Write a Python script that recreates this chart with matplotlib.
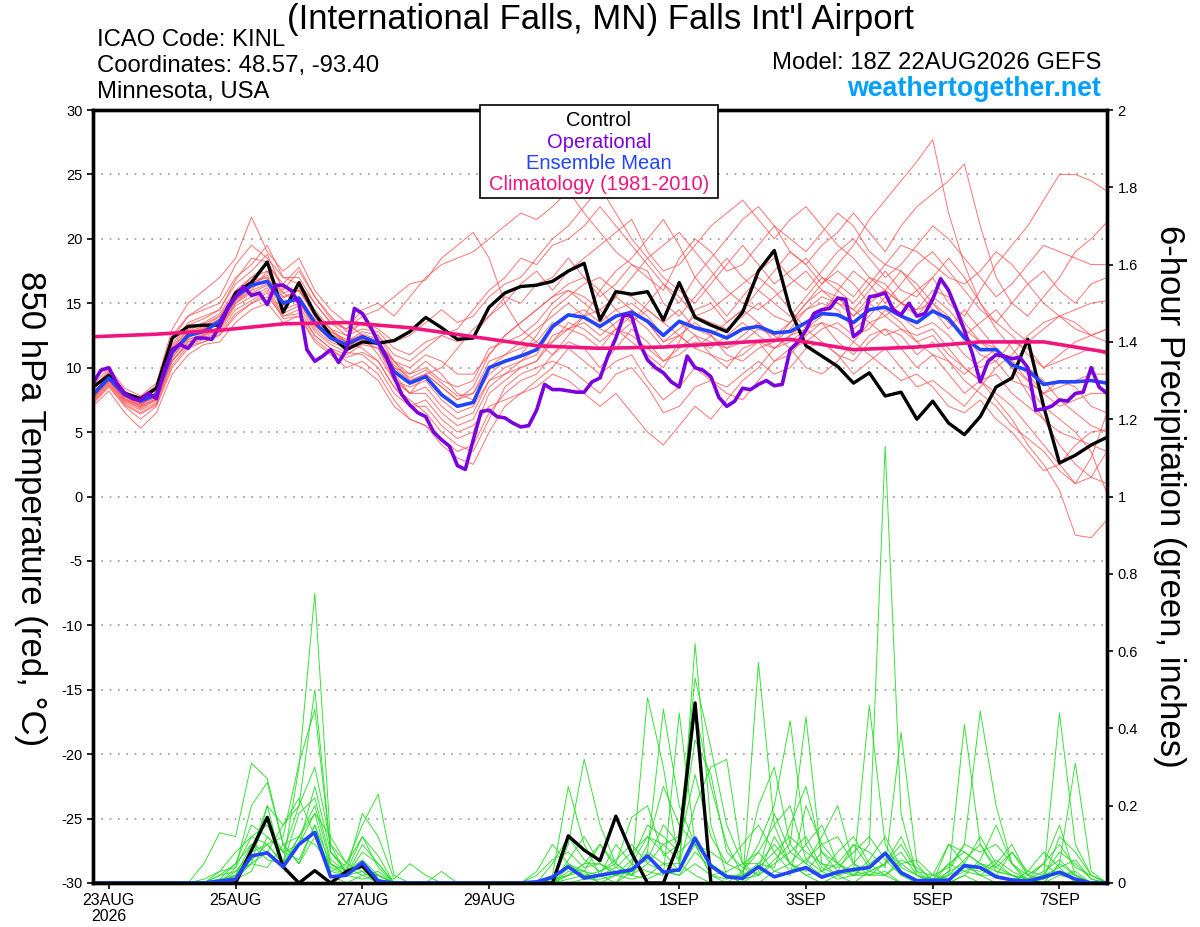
import numpy as np
import pandas as pd
import matplotlib
matplotlib.use("Agg")
import matplotlib.pyplot as plt
from matplotlib.patches import Rectangle
from matplotlib.ticker import FuncFormatter

plt.rcParams["font.family"] = ["Liberation Sans", "DejaVu Sans"]
plt.rcParams["axes.unicode_minus"] = False

# ---------------------------------------------------------------- data
RUN_START = "2026-08-22 18:00"

# 6-hourly control (black) 850 hPa temperature, degC
control_temp = [
    8.5, 9.4, 8.0, 7.6, 8.4, 12.3, 13.2, 13.3,
    13.3, 15.8, 16.6, 18.2, 14.3, 16.6, 14.2, 12.5,
    11.4, 12.0, 11.9, 12.1, 12.8, 13.9, 13.1, 12.2,
    12.3, 14.7, 15.8, 16.3, 16.4, 16.7, 17.5, 18.1,
    13.7, 15.9, 15.7, 15.9, 13.7, 16.6, 13.9, 13.3,
    12.8, 14.3, 17.5, 19.1, 14.5, 11.7, 10.9, 10.1,
    8.8, 9.6, 7.8, 8.1, 6.0, 7.4, 5.7, 4.8,
    6.2, 8.5, 9.2, 12.2, 7.0, 2.6, 3.2, 4.0,
    4.6,
]

# 6-hourly ensemble mean (blue)
mean_temp = [
    7.9, 9.2, 7.9, 7.4, 7.9, 11.2, 12.5, 12.8,
    13.6, 15.5, 16.4, 16.7, 15.0, 15.4, 13.5, 12.3,
    11.8, 12.4, 11.9, 9.7, 8.8, 9.3, 7.9, 7.0,
    7.3, 10.0, 10.5, 10.9, 11.4, 13.2, 14.1, 13.9,
    13.2, 14.0, 14.3, 13.6, 12.5, 13.6, 13.1, 12.8,
    12.3, 13.0, 13.2, 12.7, 12.8, 13.5, 14.2, 14.1,
    13.5, 14.5, 14.7, 14.0, 13.5, 14.4, 13.8, 12.3,
    11.4, 11.4, 10.2, 9.8, 8.7, 8.9, 8.9, 9.0,
    8.8,
]

# 3-hourly operational run (purple)
oper_temp = [
    8.8, 9.8, 10.0, 8.8, 8.0, 7.6, 7.5, 8.0, 7.6, 9.8, 11.4, 11.8, 11.5, 12.3, 12.3, 12.2,
    13.2, 14.7, 15.5, 16.3, 15.6, 15.8, 14.9, 16.4, 16.4, 16.0, 15.0, 11.4, 10.5, 10.9, 11.4, 10.4,
    11.4, 14.6, 14.2, 13.2, 12.0, 10.9, 9.3, 7.9, 7.1, 6.5, 6.2, 5.0, 4.4, 3.9, 2.4, 2.1,
    4.4, 6.6, 6.7, 6.2, 6.1, 5.7, 5.4, 5.5, 6.7, 8.7, 8.3, 8.3, 8.2, 8.1, 8.1, 8.9,
    9.2, 10.9, 12.3, 14.1, 14.0, 11.9, 10.6, 10.0, 9.6, 8.9, 8.5, 10.9, 10.0, 9.8, 9.3, 7.7,
    7.0, 7.4, 8.4, 8.3, 8.7, 9.0, 8.6, 8.7, 11.4, 12.0, 12.9, 14.2, 14.5, 14.6, 15.4, 15.3,
    12.4, 12.9, 15.5, 15.6, 15.8, 14.5, 14.1, 15.0, 14.0, 14.2, 15.3, 16.9, 16.0, 14.5, 12.9, 11.1,
    8.9, 10.5, 11.0, 10.9, 10.7, 10.8, 10.0, 6.7, 6.8, 7.0, 7.5, 7.4, 8.0, 8.1, 10.0, 8.5,
    8.0,
]

# daily climatology (1981-2010), magenta
clim_temp = [12.4, 12.6, 12.9, 13.4, 13.5, 13.1, 12.4, 11.7, 11.5,
             11.6, 11.9, 12.2, 11.4, 11.6, 12.0, 12.0, 11.2]

# 6-hourly perturbed members (red)
member_temp = [
    [8.0, 9.5, 7.8, 7.0, 8.2, 12.5, 14.0, 14.8, 15.5, 18.0, 19.5, 18.5, 17.0, 16.5, 15.0, 13.5,
     13.0, 14.5, 15.0, 14.0, 15.5, 17.0, 18.0, 18.5, 19.0, 20.0, 21.0, 22.0, 21.5, 22.5, 23.7, 22.0,
     20.5, 19.0, 18.0, 17.0, 16.0, 18.5, 20.0, 19.0, 17.5, 18.0, 19.5, 21.0, 20.0, 19.0, 20.5, 22.0,
     21.0, 19.0, 18.0, 17.5, 16.0, 17.0, 15.0, 14.0, 16.0, 18.0, 19.5, 21.0, 23.0, 25.0, 25.0, 24.5, 23.7],
    [7.6, 9.0, 7.5, 6.8, 7.5, 10.5, 12.0, 12.5, 13.0, 15.0, 16.0, 17.5, 15.5, 16.0, 14.5, 13.0,
     12.0, 12.5, 11.0, 9.0, 8.0, 9.5, 10.0, 11.5, 13.0, 14.0, 15.5, 15.0, 16.5, 17.0, 18.5, 17.0,
     15.5, 16.5, 18.0, 17.5, 15.0, 14.0, 15.5, 17.0, 18.5, 17.0, 16.0, 17.5, 19.0, 18.0, 16.5, 18.0,
     19.5, 21.5, 23.0, 24.5, 26.0, 27.7, 22.0, 18.0, 15.0, 13.0, 11.5, 10.0, 9.0, 7.5, 6.5, 5.5, 5.0],
    [8.3, 9.8, 8.2, 7.5, 8.0, 11.8, 13.5, 14.0, 14.5, 16.5, 17.5, 18.8, 16.0, 17.5, 15.5, 14.0,
     12.8, 13.5, 12.5, 11.0, 10.5, 11.5, 12.5, 13.0, 14.5, 16.0, 17.0, 18.5, 18.0, 19.5, 20.0, 21.0,
     22.5, 21.0, 19.5, 18.0, 16.5, 15.0, 17.0, 18.5, 20.0, 21.5, 22.5, 21.0, 19.0, 18.0, 19.5, 20.5,
     22.0, 20.5, 19.0, 21.0, 22.5, 23.5, 24.5, 25.8, 21.0, 17.0, 15.0, 14.0, 15.5, 17.0, 19.0, 20.0, 21.3],
    [7.2, 8.5, 7.0, 6.0, 7.0, 10.0, 11.5, 12.0, 12.5, 14.0, 15.0, 15.5, 14.0, 14.5, 12.5, 11.5,
     10.5, 10.0, 9.0, 7.0, 6.0, 5.5, 4.5, 3.5, 4.0, 6.5, 8.0, 9.0, 9.5, 11.0, 12.0, 11.5,
     10.0, 11.5, 13.0, 12.0, 10.5, 11.5, 12.5, 11.0, 10.0, 11.5, 12.0, 10.5, 11.0, 12.5, 13.5, 12.0,
     11.0, 12.5, 13.0, 11.5, 10.0, 11.0, 9.5, 8.0, 9.0, 7.5, 6.0, 4.0, 2.5, 0.5, -3.0, -3.2, -1.8],
    [7.5, 8.8, 7.2, 6.5, 7.2, 10.8, 12.3, 13.0, 13.8, 15.8, 16.8, 17.0, 15.0, 15.2, 13.0, 12.0,
     11.5, 12.0, 11.5, 9.5, 8.0, 8.5, 7.0, 6.0, 6.5, 9.0, 10.0, 10.5, 11.0, 13.0, 14.0, 14.5,
     13.5, 14.5, 15.0, 14.0, 12.5, 13.5, 12.5, 12.0, 11.5, 12.5, 13.5, 12.0, 13.0, 14.5, 15.0, 14.5,
     13.0, 14.0, 15.5, 14.0, 13.0, 13.5, 12.5, 11.0, 10.0, 10.5, 9.0, 8.5, 7.0, 6.0, 5.0, 3.5, 0.2],
    [7.0, 8.2, 6.5, 5.3, 6.5, 9.5, 11.0, 11.8, 12.0, 13.5, 14.5, 15.0, 13.5, 14.0, 12.0, 11.0,
     10.0, 10.5, 9.5, 7.5, 6.0, 5.5, 4.0, 3.0, 2.5, 5.0, 7.0, 8.0, 9.0, 10.0, 11.5, 10.5,
     9.5, 10.5, 11.0, 9.0, 7.5, 8.5, 10.0, 9.0, 8.5, 9.5, 10.5, 9.5, 10.0, 11.5, 12.0, 11.0,
     10.5, 12.0, 13.0, 12.5, 11.0, 12.0, 10.5, 9.0, 8.0, 7.0, 5.5, 4.5, 3.5, 2.0, 1.0, 1.5, 3.5],
    [8.6, 10.0, 8.4, 7.8, 8.8, 13.0, 15.0, 16.0, 17.0, 18.5, 21.7, 19.0, 17.5, 18.5, 16.0, 14.5,
     13.5, 12.5, 12.0, 10.5, 9.5, 10.0, 9.0, 8.5, 9.0, 11.5, 12.0, 12.5, 13.5, 15.0, 16.0, 15.5,
     14.5, 13.0, 12.0, 11.0, 10.0, 12.0, 14.5, 15.0, 13.5, 14.5, 16.0, 15.0, 14.0, 15.5, 17.0, 16.5,
     15.5, 17.0, 16.5, 15.0, 14.0, 15.5, 14.5, 13.0, 12.0, 11.0, 10.5, 9.0, 8.0, 9.0, 8.5, 7.0, 6.5],
    [7.8, 9.0, 7.6, 7.0, 7.6, 11.0, 12.8, 13.2, 14.0, 15.5, 16.5, 17.2, 15.8, 15.0, 13.8, 12.8,
     12.0, 11.5, 10.5, 8.5, 7.0, 7.5, 6.0, 5.0, 5.5, 7.0, 7.5, 8.0, 8.5, 9.5, 9.0, 8.0,
     7.0, 8.0, 6.5, 5.0, 4.0, 5.5, 7.0, 6.0, 7.5, 9.0, 10.0, 11.5, 12.5, 13.0, 12.0, 11.0,
     9.5, 10.5, 11.5, 10.0, 8.5, 9.0, 8.0, 7.0, 8.5, 10.0, 11.0, 12.5, 13.5, 14.0, 13.0, 12.5, 13.0],
    [8.1, 9.3, 7.8, 7.3, 8.1, 11.5, 13.0, 13.5, 14.2, 16.0, 17.0, 18.0, 16.5, 17.8, 15.5, 13.8,
     13.0, 14.0, 14.5, 15.5, 16.5, 16.8, 18.5, 19.5, 20.5, 18.5, 15.0, 13.0, 12.0, 11.0, 12.5, 14.0,
     16.0, 17.5, 18.5, 20.0, 21.5, 19.5, 17.0, 15.5, 14.0, 15.5, 17.0, 16.0, 14.5, 13.0, 14.0, 16.0,
     17.5, 16.5, 15.0, 16.5, 18.0, 19.0, 17.5, 16.0, 14.5, 13.5, 15.0, 16.5, 17.5, 16.0, 15.0, 16.5, 17.0],
    [7.7, 9.1, 7.7, 7.2, 7.7, 11.2, 12.2, 12.5, 13.2, 15.2, 16.0, 16.5, 14.5, 15.0, 13.2, 12.2,
     11.5, 12.5, 12.0, 10.0, 9.5, 10.5, 9.5, 8.0, 7.5, 9.5, 10.5, 11.0, 12.5, 14.5, 15.5, 16.5,
     17.0, 16.0, 15.5, 14.5, 13.5, 14.5, 13.0, 12.5, 11.0, 10.5, 11.5, 12.0, 13.5, 15.0, 16.0, 15.5,
     14.0, 15.0, 16.0, 15.0, 14.5, 16.0, 15.5, 13.5, 12.0, 11.5, 10.0, 9.0, 8.0, 8.5, 9.0, 9.5, 9.5],
    [7.4, 8.7, 7.3, 6.7, 7.3, 10.5, 12.0, 12.3, 13.0, 14.8, 15.5, 16.2, 14.2, 14.8, 12.8, 11.8,
     11.2, 11.0, 10.0, 8.0, 7.0, 7.0, 5.5, 4.5, 5.0, 8.0, 9.0, 10.0, 10.5, 12.5, 13.0, 12.5,
     11.5, 13.0, 14.0, 13.0, 11.5, 12.5, 11.5, 11.0, 10.5, 11.0, 12.0, 11.5, 12.0, 13.0, 13.5, 13.0,
     12.0, 13.5, 14.0, 13.0, 12.5, 13.0, 11.5, 10.0, 9.0, 8.0, 7.0, 5.5, 4.0, 2.5, 1.0, 3.0, 6.5],
    [8.4, 9.7, 8.1, 7.7, 8.6, 12.2, 14.0, 14.5, 15.0, 17.0, 18.0, 19.5, 17.0, 17.0, 15.0, 13.5,
     12.5, 13.5, 13.0, 12.0, 12.5, 13.5, 14.5, 13.5, 14.0, 15.5, 16.5, 17.0, 18.5, 20.0, 21.0, 22.5,
     24.0, 22.0, 20.0, 18.5, 17.0, 16.0, 15.0, 16.5, 18.0, 19.5, 18.0, 16.5, 17.5, 18.5, 17.0, 16.0,
     15.0, 16.5, 18.0, 19.5, 19.0, 18.0, 17.0, 16.5, 17.5, 19.0, 18.0, 16.5, 15.0, 14.0, 14.5, 15.0, 15.2],
    [7.9, 9.2, 7.9, 7.4, 7.9, 11.0, 12.6, 13.0, 13.6, 15.3, 16.2, 16.8, 15.2, 15.2, 13.5, 12.5,
     12.0, 12.8, 12.5, 10.5, 9.0, 9.5, 8.5, 7.5, 8.0, 10.5, 11.0, 11.5, 12.0, 13.5, 13.0, 14.0,
     14.5, 15.5, 14.5, 13.5, 12.0, 13.0, 14.0, 13.5, 13.0, 14.0, 15.0, 14.0, 13.5, 14.5, 15.5, 15.0,
     14.0, 15.5, 16.0, 15.0, 14.5, 15.0, 14.0, 12.5, 11.0, 10.5, 12.0, 11.5, 10.0, 10.5, 11.0, 11.5, 11.0],
    [7.6, 8.9, 7.4, 6.9, 7.5, 10.6, 11.8, 12.2, 12.8, 14.5, 15.2, 16.0, 14.0, 14.2, 12.5, 11.5,
     11.0, 11.8, 11.5, 9.0, 8.5, 9.0, 7.5, 6.5, 7.0, 9.0, 9.5, 10.5, 11.5, 12.0, 13.5, 13.0,
     12.0, 13.0, 12.5, 11.5, 10.5, 11.0, 12.0, 11.5, 12.5, 13.5, 12.5, 11.5, 12.5, 13.5, 14.5, 15.5,
     14.5, 13.5, 12.5, 13.0, 12.0, 11.0, 10.5, 9.5, 10.5, 11.5, 10.5, 9.5, 8.0, 7.0, 7.5, 8.0, 8.0],
    [8.2, 9.6, 8.0, 7.4, 8.3, 11.6, 13.3, 13.8, 14.5, 16.8, 18.5, 18.2, 16.2, 16.0, 14.2, 13.0,
     12.5, 13.0, 12.8, 11.5, 11.0, 12.0, 12.5, 12.0, 12.5, 14.0, 15.0, 16.5, 17.5, 16.0, 17.5, 18.5,
     19.5, 20.5, 21.5, 19.0, 17.5, 18.0, 19.5, 21.0, 22.0, 23.0, 21.5, 20.0, 21.5, 22.5, 21.0, 19.5,
     18.5, 17.0, 16.0, 17.5, 16.5, 15.0, 13.5, 12.5, 13.5, 14.5, 13.0, 12.0, 13.0, 14.0, 13.5, 12.5, 13.0],
    [7.3, 8.6, 7.1, 6.4, 7.1, 10.2, 11.7, 12.0, 12.6, 14.2, 15.0, 15.8, 13.8, 14.0, 12.2, 11.2,
     10.8, 11.2, 10.5, 8.5, 7.5, 6.5, 5.0, 4.0, 3.5, 6.0, 8.5, 9.5, 10.0, 10.5, 10.0, 9.0,
     8.0, 9.5, 10.0, 8.5, 6.5, 7.0, 8.5, 9.0, 8.0, 7.5, 9.0, 10.5, 11.5, 10.0, 9.5, 10.5,
     12.0, 11.0, 10.0, 9.0, 9.5, 8.5, 7.0, 6.5, 7.5, 6.0, 5.0, 3.5, 2.0, 2.5, 4.0, 5.0, 5.2],
    [8.0, 9.4, 7.9, 7.3, 8.0, 11.4, 12.9, 13.4, 14.0, 15.8, 17.0, 17.5, 15.8, 16.2, 14.0, 12.8,
     12.2, 12.2, 11.8, 10.5, 10.0, 11.0, 10.5, 9.5, 9.5, 11.0, 12.5, 13.5, 14.5, 15.5, 16.5, 17.0,
     16.0, 14.5, 13.5, 15.0, 16.5, 15.5, 14.0, 14.5, 15.5, 16.5, 17.5, 18.5, 17.0, 16.0, 17.5, 19.0,
     20.0, 18.5, 17.0, 18.0, 19.5, 21.0, 20.0, 18.5, 17.0, 15.5, 16.5, 18.0, 19.5, 19.0, 18.5, 18.0, 18.0],
    [7.7, 9.0, 7.5, 7.0, 7.6, 10.8, 12.2, 12.6, 13.2, 15.0, 15.8, 16.4, 14.8, 15.5, 13.5, 12.3,
     11.6, 12.2, 11.8, 9.2, 8.0, 8.0, 6.5, 5.5, 6.0, 8.5, 9.5, 10.0, 10.5, 12.0, 13.0, 13.5,
     12.5, 13.5, 14.5, 13.5, 12.0, 12.5, 13.5, 12.5, 11.5, 12.0, 13.0, 12.5, 11.5, 12.0, 13.0, 13.5,
     12.5, 13.0, 14.5, 13.5, 12.0, 12.5, 11.0, 10.0, 9.0, 9.5, 8.0, 7.0, 6.0, 5.0, 4.5, 4.0, 3.5],
    [8.0, 9.3, 7.8, 7.2, 8.0, 11.3, 12.7, 13.1, 13.8, 15.6, 16.6, 17.0, 15.4, 16.0, 14.0, 12.6,
     12.0, 12.6, 12.2, 10.0, 9.0, 9.5, 8.5, 7.5, 8.5, 11.0, 12.5, 13.5, 14.5, 15.5, 16.0, 15.0,
     14.0, 15.5, 17.0, 18.5, 19.5, 20.5, 19.0, 17.5, 16.0, 15.0, 14.5, 15.5, 16.5, 17.5, 16.0, 15.0,
     14.5, 16.0, 17.5, 16.0, 15.5, 17.0, 18.5, 17.0, 15.0, 13.5, 12.5, 11.0, 10.0, 11.0, 12.0, 12.5, 12.0],
    [7.8, 9.1, 7.6, 7.1, 7.8, 11.0, 12.4, 12.9, 13.5, 15.2, 16.3, 16.8, 15.0, 15.2, 13.3, 12.2,
     11.8, 12.5, 12.0, 10.2, 9.2, 9.8, 8.8, 7.8, 8.0, 10.0, 11.0, 12.0, 13.0, 14.0, 15.0, 14.0,
     13.0, 12.5, 13.5, 14.5, 13.5, 12.5, 11.5, 12.5, 13.5, 14.5, 13.5, 12.5, 13.5, 15.0, 16.5, 17.5,
     16.5, 15.0, 14.0, 15.0, 16.0, 14.5, 13.0, 14.5, 13.0, 11.5, 10.0, 8.0, 6.0, 4.0, 2.5, 1.5, 1.0],
]

# 6-hour precipitation, inches
control_precip = [
    0, 0, 0, 0, 0, 0, 0, 0,
    0, 0, 0.085, 0.17, 0.042, 0, 0.032, 0,
    0.03, 0.044, 0, 0, 0, 0, 0, 0,
    0, 0, 0, 0, 0, 0, 0.122, 0.085,
    0.058, 0.173, 0.077, 0, 0, 0.107, 0.466, 0,
    0, 0, 0, 0, 0, 0, 0, 0,
    0, 0, 0, 0, 0, 0, 0, 0,
    0, 0, 0, 0, 0, 0, 0, 0,
    0,
]

mean_precip = [
    0, 0, 0, 0, 0, 0, 0, 0,
    0.005, 0.01, 0.07, 0.078, 0.042, 0.1, 0.131, 0.016,
    0.02, 0.053, 0.005, 0, 0, 0, 0, 0,
    0, 0, 0, 0, 0.003, 0.015, 0.042, 0.013,
    0.02, 0.027, 0.034, 0.07, 0.028, 0.034, 0.116, 0.044,
    0.016, 0.012, 0.042, 0.016, 0.028, 0.04, 0.015, 0.028,
    0.035, 0.04, 0.077, 0.027, 0.006, 0.007, 0.007, 0.045,
    0.04, 0.016, 0.008, 0.005, 0.015, 0.028, 0.01, 0,
    0,
]

member_precip = [
    [0, 0, 0, 0, 0, 0, 0, 0.01, 0.03, 0.08, 0.12, 0.1, 0.05, 0.3, 0.75, 0.1,
     0.02, 0.03, 0, 0, 0, 0, 0, 0, 0, 0, 0, 0, 0, 0.01, 0.05, 0.03,
     0, 0, 0.05, 0.12, 0.08, 0.03, 0.62, 0.15, 0.02, 0, 0, 0.03, 0.05, 0.02, 0, 0.02,
     0.05, 0.1, 1.13, 0.18, 0.02, 0, 0, 0.02, 0, 0, 0, 0.03, 0.08, 0.04, 0, 0, 0],
    [0, 0, 0, 0, 0, 0, 0, 0, 0.02, 0.05, 0.15, 0.12, 0.08, 0.2, 0.5, 0.08,
     0.03, 0.12, 0.04, 0, 0, 0, 0, 0, 0, 0, 0, 0, 0, 0, 0.1, 0.32,
     0.15, 0.05, 0.02, 0.08, 0.45, 0.2, 0.1, 0.02, 0, 0, 0.57, 0.15, 0.05, 0.02, 0.03, 0.08,
     0.12, 0.05, 0.02, 0, 0, 0, 0.1, 0.05, 0.02, 0, 0, 0, 0.02, 0.44, 0.1, 0.02, 0],
    [0, 0, 0, 0, 0, 0, 0, 0.05, 0.13, 0.12, 0.31, 0.27, 0.1, 0.05, 0.15, 0.02,
     0, 0.02, 0, 0, 0, 0, 0, 0, 0, 0, 0, 0, 0, 0.02, 0.25, 0.1,
     0.02, 0, 0.03, 0.48, 0.3, 0.05, 0.02, 0, 0, 0.03, 0.1, 0.2, 0.42, 0.1, 0.03, 0.05,
     0.1, 0.08, 0.04, 0.39, 0.05, 0, 0, 0.05, 0.12, 0.05, 0.02, 0, 0, 0.05, 0.31, 0.03, 0],
    [0, 0, 0, 0, 0, 0, 0, 0, 0.03, 0.04, 0.2, 0.26, 0.1, 0.12, 0.2, 0.05,
     0.02, 0.05, 0.01, 0, 0, 0, 0, 0, 0, 0, 0, 0, 0, 0.05, 0.12, 0.06,
     0.03, 0.05, 0.17, 0.2, 0.07, 0.1, 0.37, 0.28, 0.08, 0.04, 0.02, 0.06, 0.1, 0.43, 0.05, 0.02,
     0, 0.03, 0.05, 0.12, 0.03, 0, 0.02, 0.41, 0.1, 0.04, 0.02, 0, 0, 0.02, 0.03, 0, 0],
    [0, 0, 0, 0, 0, 0, 0, 0, 0, 0.03, 0.08, 0.1, 0.12, 0.31, 0.45, 0.08,
     0.04, 0.02, 0.03, 0, 0, 0, 0, 0, 0, 0, 0, 0, 0, 0, 0.04, 0.03,
     0.02, 0.1, 0.05, 0.03, 0.02, 0.44, 0.1, 0.05, 0.02, 0, 0.03, 0.18, 0.08, 0.05, 0.12, 0.2,
     0.05, 0.02, 0.03, 0, 0, 0, 0.03, 0.1, 0.445, 0.2, 0.05, 0, 0.02, 0.03, 0.01, 0, 0],
    [0, 0, 0, 0, 0, 0, 0, 0, 0.01, 0.02, 0.05, 0.08, 0.15, 0.2, 0.3, 0.1,
     0.05, 0.15, 0.23, 0.02, 0, 0, 0, 0, 0, 0, 0, 0, 0, 0, 0.02, 0.05,
     0.1, 0.04, 0.02, 0.05, 0.1, 0.12, 0.53, 0.35, 0.15, 0.05, 0.02, 0.12, 0.05, 0.03, 0.08, 0.05,
     0.03, 0.46, 0.1, 0.03, 0, 0, 0, 0.02, 0.06, 0.15, 0.05, 0.01, 0, 0.05, 0.02, 0, 0],
    [0, 0, 0, 0, 0, 0, 0, 0, 0, 0.02, 0.1, 0.06, 0.05, 0.18, 0.22, 0.06,
     0.03, 0.18, 0.12, 0.01, 0.05, 0.02, 0, 0, 0, 0, 0, 0, 0.02, 0.06, 0.08, 0.04,
     0.05, 0.02, 0.01, 0.02, 0.05, 0.05, 0.2, 0.3, 0.32, 0.05, 0.05, 0.1, 0.05, 0.1, 0.15, 0.05,
     0.02, 0.05, 0.08, 0.05, 0.02, 0, 0.03, 0.05, 0.02, 0.05, 0.1, 0.02, 0.05, 0.1, 0.04, 0.02, 0],
    [0, 0, 0, 0, 0, 0, 0, 0, 0, 0.04, 0.12, 0.15, 0.08, 0.1, 0.18, 0.12,
     0.05, 0.03, 0.02, 0, 0, 0, 0.03, 0, 0, 0, 0, 0, 0.03, 0.1, 0.05, 0.02,
     0, 0.02, 0.06, 0.15, 0.12, 0.08, 0.12, 0.05, 0.02, 0.02, 0.2, 0.3, 0.1, 0.05, 0.02, 0.03,
     0.1, 0.04, 0.08, 0.02, 0, 0.02, 0.1, 0.08, 0.05, 0.03, 0.02, 0.01, 0.05, 0.15, 0.02, 0, 0],
    [0, 0, 0, 0, 0, 0, 0, 0, 0.02, 0.03, 0.05, 0.2, 0.04, 0.12, 0.1, 0.05,
     0.02, 0.08, 0.05, 0, 0, 0, 0, 0, 0, 0, 0, 0, 0, 0.01, 0.02, 0.05,
     0.05, 0.03, 0.02, 0.1, 0.25, 0.15, 0.1, 0.02, 0.03, 0.05, 0.08, 0.03, 0.02, 0.2, 0.1, 0.05,
     0.02, 0.03, 0.05, 0.08, 0.02, 0.01, 0.05, 0.03, 0.02, 0.02, 0.08, 0.02, 0.01, 0.12, 0.08, 0.02, 0],
    [0, 0, 0, 0, 0, 0, 0, 0, 0, 0.01, 0.05, 0.04, 0.1, 0.05, 0.12, 0.03,
     0.02, 0.01, 0.02, 0, 0, 0, 0, 0, 0, 0, 0, 0, 0, 0, 0.02, 0.03,
     0.1, 0.05, 0.02, 0.01, 0.03, 0.02, 0.05, 0.02, 0.01, 0.02, 0.05, 0.04, 0.15, 0.25, 0.08, 0.03,
     0.02, 0.02, 0.05, 0.1, 0.03, 0.02, 0.04, 0.1, 0.08, 0.1, 0.05, 0.02, 0.05, 0.02, 0.01, 0, 0],
    [0, 0, 0, 0, 0, 0, 0, 0, 0, 0.02, 0.08, 0.2, 0.15, 0.22, 0.12, 0.04,
     0.02, 0.1, 0.05, 0, 0, 0, 0, 0, 0, 0, 0, 0, 0, 0, 0.03, 0.02,
     0.03, 0.06, 0.1, 0.05, 0.03, 0.02, 0.08, 0.04, 0.02, 0.01, 0.02, 0.05, 0.08, 0.12, 0.04, 0.02,
     0.03, 0.02, 0.02, 0.06, 0.04, 0.01, 0.02, 0.04, 0.03, 0.06, 0.03, 0.01, 0.02, 0.08, 0.05, 0.01, 0],
    [0, 0, 0, 0, 0, 0, 0, 0, 0, 0.01, 0.03, 0.12, 0.08, 0.06, 0.15, 0.05,
     0.03, 0.06, 0.02, 0, 0, 0, 0, 0, 0, 0, 0, 0, 0, 0, 0.06, 0.12,
     0.05, 0.02, 0.04, 0.06, 0.15, 0.1, 0.28, 0.12, 0.05, 0.03, 0.08, 0.15, 0.2, 0.06, 0.03, 0.01,
     0.02, 0.06, 0.12, 0.04, 0.02, 0, 0.02, 0.06, 0.1, 0.03, 0.02, 0.01, 0.03, 0.06, 0.02, 0, 0],
    [0, 0, 0, 0, 0, 0, 0, 0, 0.01, 0.05, 0.1, 0.08, 0.04, 0.1, 0.25, 0.08,
     0.03, 0.04, 0.02, 0, 0, 0, 0, 0, 0, 0, 0, 0, 0, 0, 0.01, 0.02,
     0.02, 0.04, 0.08, 0.12, 0.1, 0.06, 0.45, 0.25, 0.1, 0.02, 0.04, 0.08, 0.12, 0.08, 0.05, 0.04,
     0.08, 0.12, 0.06, 0.02, 0.01, 0, 0.05, 0.08, 0.05, 0.02, 0.01, 0, 0.01, 0.03, 0.02, 0, 0],
    [0, 0, 0, 0, 0, 0, 0, 0, 0, 0.02, 0.06, 0.1, 0.05, 0.12, 0.18, 0.03,
     0.05, 0.12, 0.07, 0, 0, 0, 0, 0, 0, 0, 0, 0, 0, 0, 0, 0.01,
     0.01, 0.02, 0.03, 0.08, 0.05, 0.03, 0.1, 0.08, 0.05, 0.1, 0.15, 0.08, 0.03, 0.06, 0.1, 0.12,
     0.05, 0.03, 0.02, 0.05, 0.06, 0.02, 0.01, 0.03, 0.05, 0.04, 0.08, 0.03, 0.02, 0.04, 0.06, 0.01, 0],
]

tick_days = ["2026-08-23", "2026-08-25", "2026-08-27", "2026-08-29",
             "2026-09-01", "2026-09-03", "2026-09-05", "2026-09-07"]
tick_labels = ["23AUG\n2026", "25AUG", "27AUG", "29AUG", "1SEP", "3SEP", "5SEP", "7SEP"]

legend_entries = ["Control", "Operational", "Ensemble Mean", "Climatology (1981-2010)"]

# ---------------------------------------------------------------- colours
RED = "#ff5050"
GREEN = "#22dd22"
BLUE = "#2244ff"
PURPLE = "#7a00dd"
MAGENTA = "#f0147e"
LEGEND_COLORS = ["black", PURPLE, BLUE, MAGENTA]


def temp_to_right(vals):
    # left axis -30..30 maps onto right axis 0..2
    return (np.asarray(vals, dtype=float) + 30.0) / 30.0


def main():
    t6 = pd.date_range(RUN_START, periods=len(mean_temp), freq="6h")
    t3 = pd.date_range(RUN_START, periods=len(oper_temp), freq="3h")
    t24 = pd.date_range(RUN_START, periods=len(clim_temp), freq="24h")

    fig = plt.figure(figsize=(12, 9.27), dpi=100)
    ax = fig.add_axes([93 / 1200, 44 / 927, 1014 / 1200, 773 / 927])
    ax2 = ax.twinx()

    # precipitation (right axis)
    for mem in member_precip:
        ax2.plot(t6, mem, color=GREEN, lw=0.7, alpha=0.9)
    ax2.plot(t6, control_precip, color="black", lw=2.4)
    ax2.plot(t6, mean_precip, color=BLUE, lw=2.6)

    # temperature, drawn on the right axis through the -30..30 -> 0..2 mapping
    for mem in member_temp:
        ax2.plot(t6, temp_to_right(mem), color=RED, lw=0.7, alpha=0.8)
    ax2.plot(t6, temp_to_right(control_temp), color="black", lw=2.4)
    ax2.plot(t6, temp_to_right(mean_temp), color=BLUE, lw=2.6)
    ax2.plot(t3, temp_to_right(oper_temp), color=PURPLE, lw=2.6)
    ax2.plot(t24, temp_to_right(clim_temp), color=MAGENTA, lw=2.6)

    ax.set_ylim(-30, 30)
    ax2.set_ylim(0, 2)
    ax.set_xlim(t6[0], t6[-1])

    ax.set_yticks(np.arange(-30, 31, 5))
    ax.yaxis.grid(True, linestyle=(0, (1, 4)), color="#999999", lw=1.2)
    ax2.set_yticks(np.arange(0, 2.01, 0.2))
    ax2.yaxis.set_major_formatter(FuncFormatter(lambda v, p: "%g" % round(v, 1)))

    ax.set_xticks(pd.to_datetime(tick_days))
    ax.set_xticklabels(tick_labels, fontsize=11.5, linespacing=1.1)
    ax.tick_params(axis="x", direction="out", length=4, width=1.2, pad=3)
    ax.tick_params(axis="y", direction="out", length=4, width=1.2, labelsize=10.5)
    ax2.tick_params(axis="y", direction="out", length=4, width=1.2, labelsize=10.5)

    for a in (ax, ax2):
        for s in a.spines.values():
            s.set_linewidth(2.4)

    # both axis titles read top to bottom
    ax.set_ylabel("850 hPa Temperature (red, \u00b0C)", fontsize=25, rotation=-90,
                  va="center", ha="center")
    ax.yaxis.set_label_coords(-0.0621, 0.485)
    ax2.set_ylabel("6-hour Precipitation (green, inches)", fontsize=25, rotation=-90,
                   va="center", ha="center")
    ax2.yaxis.set_label_coords(1.062, 0.5)

    # legend box
    ax2.add_patch(Rectangle((0.3817, 0.886), 0.2347, 0.12, transform=ax2.transAxes,
                            facecolor="white", edgecolor="black", lw=1.2,
                            zorder=10, clip_on=False))
    for k, (txt, col) in enumerate(zip(legend_entries, LEGEND_COLORS)):
        ax2.text(0.499, 0.9858 - k * 0.0275, txt, color=col, fontsize=14.5,
                 ha="center", va="center", transform=ax2.transAxes, zorder=11)

    # header texts
    fig.text(0.5, 1 - 19 / 927, "(International Falls, MN) Falls Int'l Airport",
             ha="center", va="center", fontsize=25)
    fig.text(97 / 1200, 1 - 40 / 927, "ICAO Code: KINL", ha="left", va="center", fontsize=17.2)
    fig.text(97 / 1200, 1 - 66 / 927, "Coordinates: 48.57, -93.40", ha="left", va="center",
             fontsize=17.2)
    fig.text(97 / 1200, 1 - 92 / 927, "Minnesota, USA", ha="left", va="center", fontsize=17.2)
    fig.text(1101 / 1200, 1 - 63 / 927, "Model: 18Z 22AUG2026 GEFS", ha="right", va="center",
             fontsize=17.2)
    fig.text(1101 / 1200, 1 - 89 / 927, "weathertogether.net", ha="right", va="center",
             fontsize=19.3, fontweight="bold", color="#00a0ff")

    fig.savefig("out.png", dpi=100)


if __name__ == "__main__":
    main()
